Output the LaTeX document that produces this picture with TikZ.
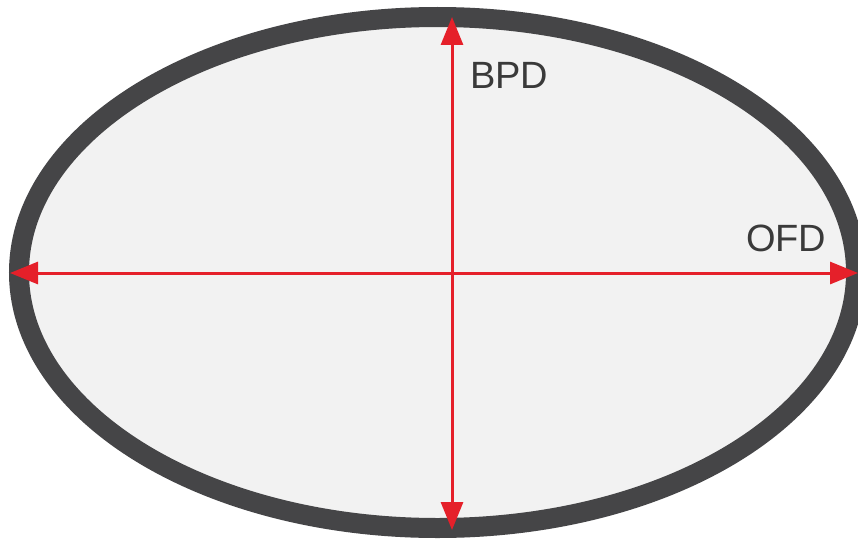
\documentclass[tikz,border=0pt]{standalone}
\usepackage{fontspec}
\setmainfont{Liberation Sans}
\usetikzlibrary{arrows.meta}
\definecolor{rim}{HTML}{454547}
\definecolor{inner}{HTML}{F2F2F2}
\definecolor{arrowred}{HTML}{E5202A}
\definecolor{txt}{HTML}{3A3A3A}
\tikzset{
  measure/.style={draw=arrowred, line width=3pt, {Triangle[length=28pt,width=22pt]}-{Triangle[length=28pt,width=22pt]}},
  lbl/.style={text=txt, font=\fontsize{38}{40}\selectfont, inner sep=0pt, anchor=west}
}
\begin{document}
\begin{tikzpicture}[x=1pt,y=-1pt]
\useasboundingbox (0,0) rectangle (858,543);
\clip (0,0) rectangle (858,543);
\fill[white] (0,0) rectangle (858,543);
\draw[draw=rim, fill=inner, line width=20pt] (437.5,272.5) ellipse [x radius=418.5, y radius=255.5];
\coordinate (top) at (452,17);
\coordinate (bot) at (452,530);
\coordinate (left) at (10,273);
\coordinate (right) at (858,273);
\draw[measure] (left) -- (right);
\draw[measure] (top) -- (bot);
\node[lbl] (bpd) at (470,75) {BPD};
\node[lbl] (ofd) at (746,238) {OFD};
\end{tikzpicture}
\end{document}
